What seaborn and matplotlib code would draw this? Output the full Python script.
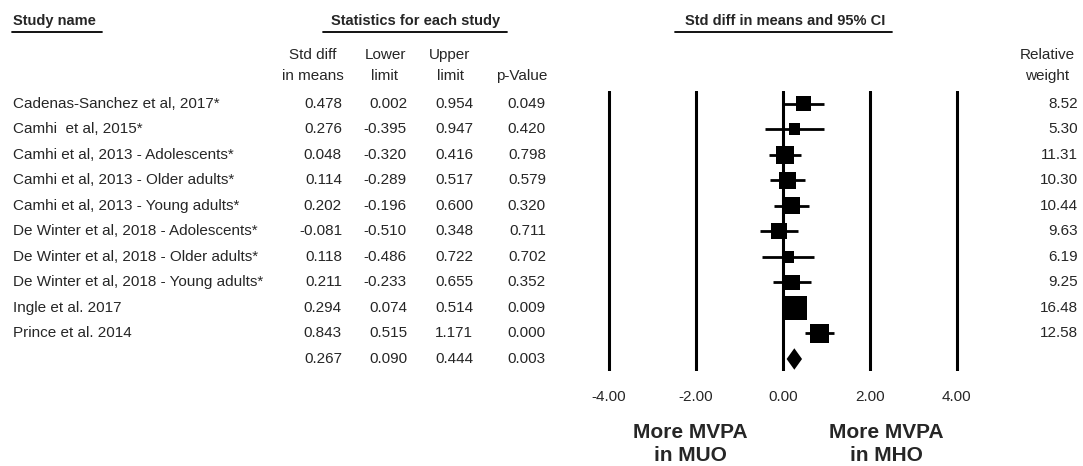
import matplotlib
matplotlib.use("Agg")
import matplotlib.pyplot as plt
from matplotlib.lines import Line2D
import matplotlib.transforms as mtrans
import numpy as np
import seaborn as sns

# ---------------- data ----------------
studies = [
    "Cadenas-Sanchez et al, 2017*",
    "Camhi  et al, 2015*",
    "Camhi et al, 2013 - Adolescents*",
    "Camhi et al, 2013 - Older adults*",
    "Camhi et al, 2013 - Young adults*",
    "De Winter et al, 2018 - Adolescents*",
    "De Winter et al, 2018 - Older adults*",
    "De Winter et al, 2018 - Young adults*",
    "Ingle et al. 2017",
    "Prince et al. 2014",
]
smd = [0.478, 0.276, 0.048, 0.114, 0.202, -0.081, 0.118, 0.211, 0.294, 0.843]
lower = [0.002, -0.395, -0.320, -0.289, -0.196, -0.510, -0.486, -0.233, 0.074, 0.515]
upper = [0.954, 0.947, 0.416, 0.517, 0.600, 0.348, 0.722, 0.655, 0.514, 1.171]
pvals = [0.049, 0.420, 0.798, 0.579, 0.320, 0.711, 0.702, 0.352, 0.009, 0.000]
weights = [8.52, 5.30, 11.31, 10.30, 10.44, 9.63, 6.19, 9.25, 16.48, 12.58]

summary_smd = 0.267
summary_lower = 0.090
summary_upper = 0.444
summary_p = 0.003

xticks = [-4, -2, 0, 2, 4]

# ---------------- figure ----------------
sns.set_style("white")
plt.rcParams["font.family"] = ["Liberation Sans", "DejaVu Sans"]

W, H = 1083, 466
fig = plt.figure(figsize=(W / 100, H / 100), dpi=100)


def fx(px):
    return px / W


def fy(py):
    return 1 - py / H


# forest axes: x=0 at px 782.7, 43.55 px per unit; rows 103.5 + 25.55*r
x0px, ppu = 782.7, 43.55
xl, xr = -4.5, 4.5
r0px, rpitch = 103.5, 25.55
yt, yb = -0.47, 10.47
left = x0px + xl * ppu
right = x0px + xr * ppu
top = r0px + yt * rpitch
bottom = r0px + yb * rpitch
ax = fig.add_axes([fx(left), fy(bottom), fx(right) - fx(left), (bottom - top) / H])
ax.set_xlim(xl, xr)
ax.set_ylim(yb, yt)

for t in xticks:
    ax.axvline(t, color="black", lw=2.2, zorder=1, solid_capstyle="round")

rows = np.arange(len(studies))
ax.hlines(rows, lower, upper, color="black", lw=2.0, zorder=2)
side_px = 5.5 + 1.1 * np.array(weights)
sizes = (side_px * 0.72) ** 2
sns.scatterplot(x=smd, y=rows, s=sizes, marker="s", color="black",
                linewidth=0, ax=ax, zorder=3, legend=False)

sr = len(studies)
h = 0.42
ax.fill([summary_lower, summary_smd, summary_upper, summary_smd],
        [sr, sr - h, sr, sr + h], color="black", zorder=3, lw=0)

ax.set_xticks(xticks)
ax.set_xticklabels([f"{t:.2f}" for t in xticks], fontsize=11)
ax.tick_params(axis="x", length=0, pad=14)
ax.set_yticks([])
for s in ax.spines.values():
    s.set_visible(False)
ax.patch.set_alpha(0)

# text rows aligned to data rows
tr = mtrans.blended_transform_factory(fig.transFigure, ax.transData)
fs = 11
for i, name in enumerate(studies):
    fig.text(fx(13), i, name, transform=tr, ha="left", va="center", fontsize=fs)
    fig.text(fx(342), i, f"{smd[i]:.3f}", transform=tr, ha="right", va="center", fontsize=fs)
    fig.text(fx(407), i, f"{lower[i]:.3f}", transform=tr, ha="right", va="center", fontsize=fs)
    fig.text(fx(473), i, f"{upper[i]:.3f}", transform=tr, ha="right", va="center", fontsize=fs)
    fig.text(fx(546), i, f"{pvals[i]:.3f}", transform=tr, ha="right", va="center", fontsize=fs)
    fig.text(fx(1078), i, f"{weights[i]:.2f}", transform=tr, ha="right", va="center", fontsize=fs)
fig.text(fx(342), sr, f"{summary_smd:.3f}", transform=tr, ha="right", va="center", fontsize=fs)
fig.text(fx(407), sr, f"{summary_lower:.3f}", transform=tr, ha="right", va="center", fontsize=fs)
fig.text(fx(473), sr, f"{summary_upper:.3f}", transform=tr, ha="right", va="center", fontsize=fs)
fig.text(fx(546), sr, f"{summary_p:.3f}", transform=tr, ha="right", va="center", fontsize=fs)

# headers
hfs = 10.5
fig.text(fx(13), fy(21), "Study name", ha="left", va="center", fontsize=hfs, fontweight="bold")
fig.text(fx(416), fy(21), "Statistics for each study", ha="center", va="center", fontsize=hfs, fontweight="bold")
fig.text(fx(785), fy(21), "Std diff in means and 95% CI", ha="center", va="center", fontsize=hfs, fontweight="bold")
for x1, x2 in [(12, 102), (323, 507), (675, 892)]:
    fig.add_artist(Line2D([fx(x1), fx(x2)], [fy(32), fy(32)], transform=fig.transFigure,
                          color="black", lw=1.3))

col_heads = [(313, "Std diff", "in means"), (385, "Lower", "limit"),
             (450, "Upper", "limit"), (522, "", "p-Value"), (1047, "Relative", "weight")]
for cx, l1, l2 in col_heads:
    if l1:
        fig.text(fx(cx), fy(55), l1, ha="center", va="center", fontsize=fs)
    fig.text(fx(cx), fy(76), l2, ha="center", va="center", fontsize=fs)

# favour labels
bfs = 15
fig.text(fx(690), fy(444), "More MVPA\nin MUO", ha="center", va="center", fontsize=bfs,
         fontweight="bold", linespacing=1.3)
fig.text(fx(886), fy(444), "More MVPA\nin MHO", ha="center", va="center", fontsize=bfs,
         fontweight="bold", linespacing=1.3)

fig.savefig("out.png", dpi=100)
